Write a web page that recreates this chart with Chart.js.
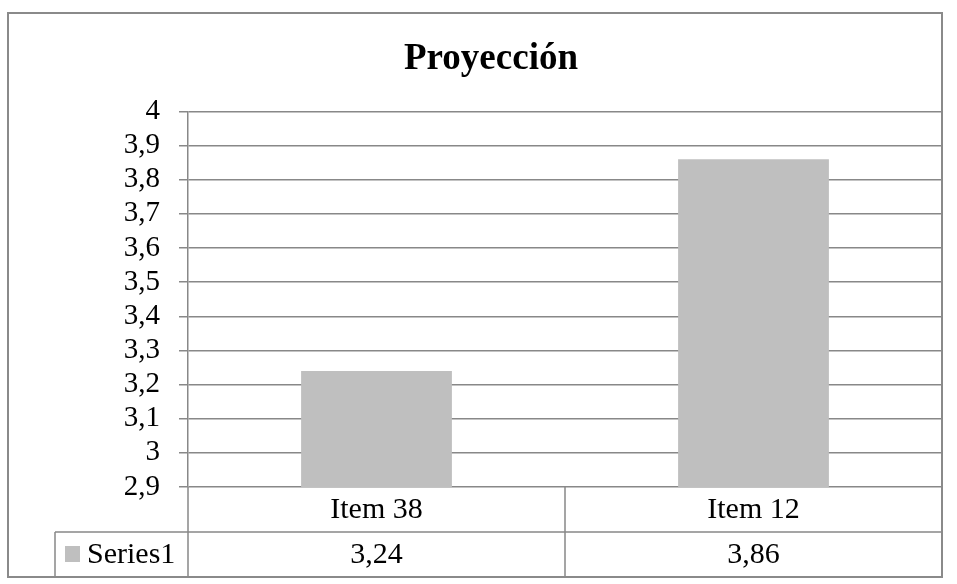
<!DOCTYPE html>
<html>
<head>
<meta charset="utf-8">
<script src="https://cdn.jsdelivr.net/npm/chart.js@4"></script>
<style>
html,body{margin:0;padding:0;background:#fff;}
#wrap{width:957px;height:584px;position:relative;}
</style>
</head>
<body>
<div id="wrap"><canvas id="c" width="957" height="584"></canvas></div>
<script>
const categories = ['Item 38', 'Item 12'];
const seriesName = 'Series1';
const seriesValues = [3.24, 3.86];
const yMin = 2.9, yMax = 4, yStep = 0.1;
const chartTitle = 'Proyección';

const FONT = "'Liberation Serif', 'Times New Roman', serif";
const LINE = '#888888';
const BAR = '#bfbfbf';

function fmt(v) {
  return String(Math.round(v * 100) / 100).replace('.', ',');
}

const tablePlugin = {
  id: 'dataTable',
  afterDraw(chart) {
    const ctx = chart.ctx;
    const area = chart.chartArea;
    const xs = chart.scales.x;
    const n = categories.length;
    const rowH = 45;
    const keyLeft = area.left - 133;
    const outerLeft = 8, outerTop = 13;
    ctx.save();
    ctx.strokeStyle = LINE;
    ctx.lineWidth = 1.5;
    const bounds = [area.left];
    for (let i = 0; i < n - 1; i++) {
      bounds.push((xs.getPixelForValue(i) + xs.getPixelForValue(i + 1)) / 2);
    }
    bounds.push(area.right);
    const y0 = area.bottom, y1 = y0 + rowH, y2 = y1 + rowH;
    ctx.beginPath();
    ctx.moveTo(keyLeft, y1); ctx.lineTo(area.right, y1);
    ctx.moveTo(keyLeft, y2); ctx.lineTo(area.right, y2);
    bounds.forEach((b) => { ctx.moveTo(b, y0); ctx.lineTo(b, y2); });
    ctx.moveTo(keyLeft, y1); ctx.lineTo(keyLeft, y2);
    ctx.stroke();
    ctx.lineWidth = 2;
    ctx.strokeStyle = '#8a8a8a';
    ctx.strokeRect(outerLeft, outerTop, area.right - outerLeft, y2 - outerTop);
    ctx.fillStyle = '#000';
    ctx.font = '30px ' + FONT;
    ctx.textAlign = 'center';
    ctx.textBaseline = 'middle';
    categories.forEach((c, i) => {
      ctx.fillText(c, xs.getPixelForValue(i), y0 + rowH / 2 + 1);
      ctx.fillText(fmt(seriesValues[i]), xs.getPixelForValue(i), y1 + rowH / 2 + 1);
    });
    ctx.fillStyle = BAR;
    ctx.fillRect(keyLeft + 10, y1 + 14, 15, 16);
    ctx.fillStyle = '#000';
    ctx.textAlign = 'left';
    ctx.fillText(seriesName, keyLeft + 32, y1 + rowH / 2 + 1);
    ctx.restore();
  }
};

new Chart(document.getElementById('c'), {
  type: 'bar',
  data: {
    labels: categories,
    datasets: [{
      label: seriesName,
      data: seriesValues,
      backgroundColor: BAR,
      borderWidth: 0,
      barPercentage: 0.4,
      categoryPercentage: 1.0
    }]
  },
  options: {
    responsive: false,
    animation: false,
    devicePixelRatio: 1,
    layout: { padding: { left: 40, right: 15, top: 0, bottom: 97 } },
    plugins: {
      legend: { display: false },
      tooltip: { enabled: false },
      title: {
        display: true,
        text: chartTitle,
        color: '#000',
        font: { family: FONT, size: 37, weight: 'bold' },
        padding: { top: 37, bottom: 30 }
      }
    },
    scales: {
      x: {
        display: false,
        grid: { display: false }
      },
      y: {
        min: yMin,
        max: yMax,
        afterFit(scale) { scale.width = 148; },
        ticks: {
          stepSize: yStep,
          autoSkip: false,
          color: '#000',
          padding: 19,
          font: { family: FONT, size: 29 },
          callback: (v) => fmt(v)
        },
        grid: {
          color: LINE,
          lineWidth: 1.5,
          tickLength: 9,
          drawTicks: true
        },
        border: { display: true, color: LINE, width: 1.5 }
      }
    }
  },
  plugins: [tablePlugin]
});
</script>
</body>
</html>
